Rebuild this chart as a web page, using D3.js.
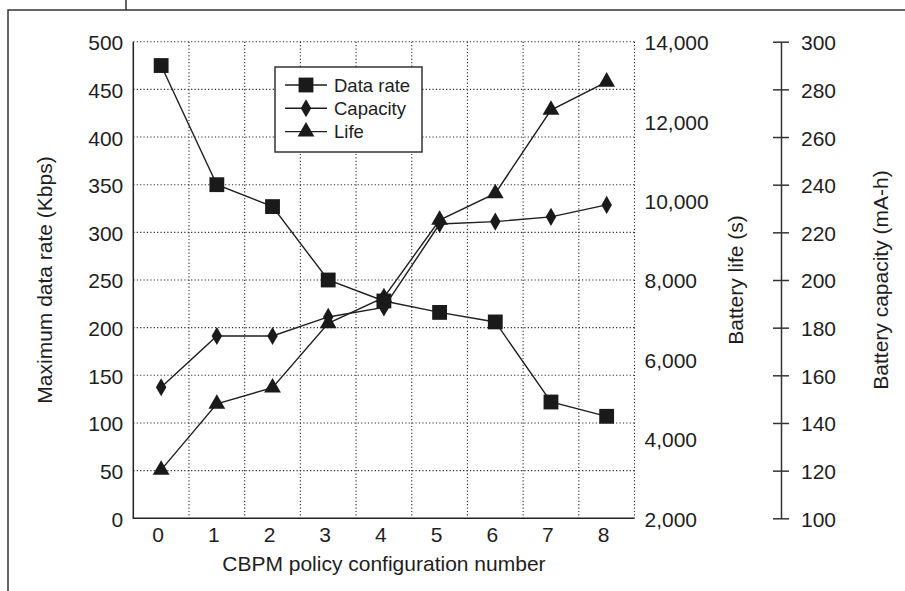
<!DOCTYPE html>
<html lang="en">
<head>
<meta charset="UTF-8">
<title>CBPM policy configurations</title>
<style>
  body { margin: 0; background: #fff; }
  svg text { font-family: "Liberation Sans", Arial, Helvetica, sans-serif; fill: #1e1e1e; }
  .grid line { stroke: #2a2a2a; stroke-width: 1.1; stroke-dasharray: 1.2,2.2; }
  .series { fill: none; stroke: #1e1e1e; stroke-width: 1.4; }
  .mark { fill: #1a1a1a; }
</style>
</head>
<body>
<script src="https://d3js.org/d3.v7.min.js"></script>
<script>
// values
var configs = [0, 1, 2, 3, 4, 5, 6, 7, 8];
var dataRate = [475, 350, 327, 250, 228, 216, 206, 122, 107];     // Kbps
var batteryLife = [3220, 4880, 5290, 6910, 7560, 9510, 10180, 12280, 12990]; // s
var capacity = [155, 176.5, 176.5, 184.5, 188.5, 223.5, 224.5, 226.5, 231.5]; // mA-h

var rateTicks = [0, 50, 100, 150, 200, 250, 300, 350, 400, 450, 500];
var lifeTicks = [2000, 4000, 6000, 8000, 10000, 12000, 14000];
var capTicks = [100, 120, 140, 160, 180, 200, 220, 240, 260, 280, 300];

var W = 905, H = 591;
// note: "top" is taken by window.top, so plot edges get a prefix
var plotL = 133.3, plotR = 634.5, plotT = 41.7, plotB = 518.3;
var fs = 21;

var svg = d3.select("body").append("svg")
  .attr("width", W)
  .attr("height", H);

// page frame bits
svg.append("path")
  .attr("d", "M8," + H + "V10H" + W + "M126,0V10")
  .attr("fill", "none")
  .attr("stroke", "#333")
  .attr("stroke-width", 1.5);

var x = d3.scaleBand().domain(configs).range([plotL, plotR]).padding(0);
var yRate = d3.scaleLinear().domain([0, 500]).range([plotB, plotT]);
var yLife = d3.scaleLinear().domain([2000, 14000]).range([plotB, plotT]);
var yCap = d3.scaleLinear().domain([100, 300]).range([plotB, plotT]);

// grid
var grid = svg.append("g").attr("class", "grid");
grid.selectAll(".h").data(rateTicks.slice(1)).enter().append("line")
  .attr("x1", plotL).attr("x2", plotR)
  .attr("y1", function(d) { return yRate(d); })
  .attr("y2", function(d) { return yRate(d); });
grid.selectAll(".v").data(configs.slice(1).concat(["end"])).enter().append("line")
  .attr("x1", function(d) { return d === "end" ? plotR : x(d); })
  .attr("x2", function(d) { return d === "end" ? plotR : x(d); })
  .attr("y1", plotT).attr("y2", plotB);

// solid left and bottom axis lines
svg.append("path")
  .attr("d", "M" + plotL + "," + plotT + "V" + plotB + "H" + plotR)
  .attr("fill", "none")
  .attr("stroke", "#222")
  .attr("stroke-width", 1.5);

function styleAxis(g, size) {
  g.select(".domain").remove();
  g.selectAll("text")
    .style("font-size", size + "px")
    .attr("fill", "#1e1e1e");
}

// left axis
svg.append("g")
  .attr("transform", "translate(" + plotL + ",0)")
  .call(d3.axisLeft(yRate).tickValues(rateTicks).tickSize(0).tickPadding(10))
  .call(styleAxis, fs)
  .selectAll("text").attr("dy", "0.38em");

// bottom axis
svg.append("g")
  .attr("transform", "translate(0," + plotB + ")")
  .call(d3.axisBottom(x).tickSize(0).tickPadding(8.5))
  .call(styleAxis, fs)
  .selectAll("text").attr("dx", "-3");

// battery life axis (labels only)
svg.append("g")
  .attr("transform", "translate(" + plotR + ",0)")
  .call(d3.axisRight(yLife).tickValues(lifeTicks).tickSize(0).tickPadding(10)
    .tickFormat(d3.format(",")))
  .call(styleAxis, fs)
  .selectAll("text").attr("dy", "0.38em");

// battery capacity axis
var capX = 781;
var capAxis = svg.append("g")
  .attr("transform", "translate(" + capX + ",0)")
  .call(d3.axisRight(yCap).tickValues(capTicks).tickSizeInner(8).tickSizeOuter(0).tickPadding(12));
capAxis.select(".domain").attr("stroke", "#333").attr("stroke-width", 1.5);
capAxis.selectAll(".tick line").attr("x1", -8).attr("stroke", "#333").attr("stroke-width", 1.5);
capAxis.selectAll("text").style("font-size", fs + "px").attr("fill", "#1e1e1e").attr("dy", "0.38em");

// axis titles
function vTitle(cxPos, label) {
  svg.append("text")
    .attr("transform", "translate(" + cxPos + "," + (plotT + plotB) / 2 + ") rotate(-90)")
    .attr("text-anchor", "middle")
    .style("font-size", fs + "px")
    .text(label);
}
vTitle(52, "Maximum data rate (Kbps)");
vTitle(743, "Battery life (s)");
vTitle(888, "Battery capacity (mA-h)");
svg.append("text")
  .attr("x", (plotL + plotR) / 2)
  .attr("y", 571)
  .attr("text-anchor", "middle")
  .style("font-size", fs + "px")
  .text("CBPM policy configuration number");

// series
var series = [
  { name: "Data rate", values: dataRate, y: yRate, symbol: d3.symbolSquare, size: 220 },
  { name: "Capacity", values: capacity, y: yCap, symbol: d3.symbolDiamond, size: 95 },
  { name: "Life", values: batteryLife, y: yLife, symbol: d3.symbolTriangle, size: 122 }
];
var cx = function(i) { return x(configs[i]) + x.bandwidth() / 2; };

series.forEach(function(s) {
  var line = d3.line()
    .x(function(d, i) { return cx(i); })
    .y(function(d) { return s.y(d); });
  svg.append("path").attr("class", "series").attr("d", line(s.values));
  svg.selectAll(null).data(s.values).enter().append("path")
    .attr("class", "mark")
    .attr("d", d3.symbol().type(s.symbol).size(s.size))
    .attr("transform", function(d, i) { return "translate(" + cx(i) + "," + s.y(d) + ")"; });
});

// legend
var lg = svg.append("g").attr("transform", "translate(275,67)");
lg.append("rect")
  .attr("width", 147).attr("height", 85)
  .attr("fill", "#fff").attr("stroke", "#333").attr("stroke-width", 1.5);
var row = lg.selectAll(".row").data(series).enter().append("g")
  .attr("transform", function(d, i) { return "translate(0," + (18 + i * 23.3) + ")"; });
row.append("line")
  .attr("x1", 10).attr("x2", 52)
  .attr("stroke", "#1e1e1e").attr("stroke-width", 1.4);
row.append("path")
  .attr("class", "mark")
  .attr("transform", "translate(31,0)")
  .attr("d", function(d) { return d3.symbol().type(d.symbol).size(d.size)(); });
row.append("text")
  .attr("x", 59).attr("dy", "0.36em")
  .style("font-size", "18.5px")
  .text(function(d) { return d.name; });
</script>
</body>
</html>
